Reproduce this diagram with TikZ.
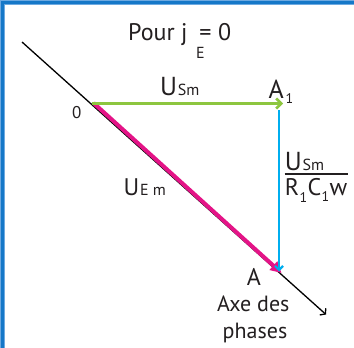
\documentclass[tikz,border=0pt]{standalone}
\usepackage{fontspec}
\setmainfont{PT Sans}
\usetikzlibrary{arrows.meta}
\definecolor{frameblue}{RGB}{22,120,200}
\definecolor{framelight}{RGB}{110,170,225}
\definecolor{vgreen}{RGB}{141,198,63}
\definecolor{vcyan}{RGB}{0,174,239}
\definecolor{vpink}{RGB}{228,20,135}
\definecolor{ink}{RGB}{35,31,32}
\begin{document}
\begin{tikzpicture}[x=1pt,y=-1pt,
  txt/.style={inner sep=0pt, anchor=base west, text=ink},
  fbig/.style={txt, font=\fontsize{26}{30}\selectfont},
  fmid/.style={txt, font=\fontsize{24}{28}\selectfont},
  faxe/.style={txt, font=\fontsize{22}{26}\selectfont},
  fsmall/.style={txt, font=\fontsize{16}{19}\selectfont},
  fsub/.style={txt, font=\fontsize{14}{17}\selectfont},
  fzero/.style={txt, font=\fontsize{17}{20}\selectfont},
  axisline/.style={draw=black, line width=1.3pt, -{Straight Barb[length=3.5pt,width=9pt]}},
  greenvec/.style={draw=vgreen, line width=2.6pt, -{Straight Barb[length=5pt,width=10pt]}},
  cyanvec/.style={draw=vcyan, line width=2.2pt, -{Straight Barb[length=4pt,width=8pt]}},
  pinkvec/.style={draw=vpink, line width=4pt, -{Triangle[length=11pt,width=11pt]}}]
\useasboundingbox (0,0) rectangle (354,348);
\clip (0,0) rectangle (354,348);
\fill[white] (0,0) rectangle (354,348);
% frame
\draw[framelight, line width=5.4pt] (2.7,400) -- (2.7,2.7) -- (400,2.7);
\draw[frameblue, line width=2.7pt] (2.7,400) -- (2.7,2.7) -- (400,2.7);
% points
\coordinate (S) at (22,42);
\coordinate (T) at (326,314.5);
\coordinate (O) at (92,103.5);
\coordinate (Op) at (93.5,103);
\coordinate (A1) at (283,103.5);
\coordinate (A1b) at (279,110);
\coordinate (A) at (279,271.5);
\coordinate (Ap) at (281.5,273);
% vectors
\draw[axisline] (S) -- (T);
\draw[pinkvec] (Op) -- (Ap);
\draw[cyanvec] (A1b) -- (A);
\draw[greenvec] (O) -- (A1);
% title
\node[fmid] (pour) at (128,40) {Pour j};
\node[fmid, anchor=base] (eq) at (205.5,40) {=};
\node[fmid] (zero) at (218,40) {0};
\node[fsmall, anchor=base] (subE) at (200.5,58.3) {E};
% labels
\node[fzero] (olbl) at (72,118) {0};
\node[fbig] (usmU) at (160,95) {U};
\node[fsmall] (usmS) at ([xshift=0.3pt,yshift=-0.5pt]usmU.base east) {Sm};
\node[fbig] (a1A) at (268.3,98.3) {A};
\node[fsub] (a1one) at ([xshift=1.5pt,yshift=-5pt]a1A.base east) {1};
\node[fbig] (fracU) at (284.7,170) {U};
\node[fsmall] (fracS) at ([xshift=0.3pt]fracU.base east) {Sm};
\node[fmid] (fracR) at (284.7,195) {R};
\node[fsub] (fracR1) at ([yshift=-7pt]fracR.base east) {1};
\node[fmid] (fracC) at ([yshift=7pt]fracR1.base east) {C};
\node[fsub] (fracC1) at ([yshift=-6pt]fracC.base east) {1};
\node[fmid] (fracW) at ([yshift=6pt]fracC1.base east) {w};
\draw[ink, line width=2pt] (fracU.west |- 0,174.2) -- (fracW.east |- 0,174.2);
\node[fmid] (uemU) at (123.3,195) {U};
\node[fsmall] (uemS) at ([xshift=0.5pt,yshift=-0.7pt]uemU.base east) {E m};
\node[fmid, anchor=base] (albl) at (254,285) {A};
\node[faxe, anchor=base] (axe1) at (253.3,311.7) {Axe des};
\node[faxe, anchor=base] (axe2) at (255,338.3) {phases};
\end{tikzpicture}
\end{document}
